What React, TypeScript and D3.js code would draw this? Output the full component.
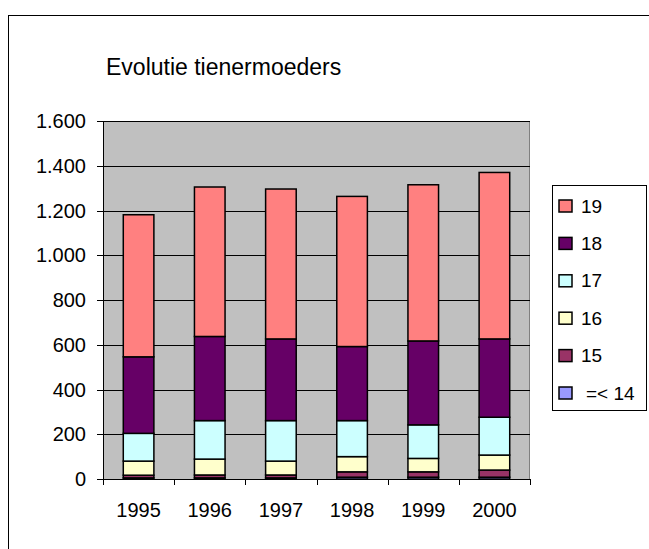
import React from 'react';
import * as d3 from 'd3';

const years = ['1995', '1996', '1997', '1998', '1999', '2000'];
const seriesNames = ['=< 14', '15', '16', '17', '18', '19'];
const seriesColors = ['#9999FF', '#993366', '#FFFFCC', '#CCFFFF', '#660066', '#FF8080'];
const age14 = [5, 5, 5, 8, 8, 8];
const age15 = [12, 13, 13, 24, 24, 32];
const age16 = [63, 71, 62, 68, 60, 67];
const age17 = [124, 172, 181, 161, 150, 169];
const age18 = [342, 376, 365, 331, 375, 350];
const age19 = [635, 668, 670, 671, 698, 744];
const yTicks = [0, 200, 400, 600, 800, 1000, 1200, 1400, 1600];

const W = 649;
const H = 549;
const plot = { left: 103, right: 530, top: 121, bottom: 479 };
const font = '"Liberation Sans", Arial, sans-serif';

const nl = d3.formatLocale({ decimal: ',', thousands: '.', grouping: [3], currency: ['€', ''] });
const fmt = nl.format(',d');

export default function App() {
  const table = years.map((year, i) => ({
    year,
    '=< 14': age14[i],
    '15': age15[i],
    '16': age16[i],
    '17': age17[i],
    '18': age18[i],
    '19': age19[i],
  }));
  const stacked = d3.stack<any>().keys(seriesNames)(table);

  const x = d3.scaleBand().domain(years).range([plot.left, plot.right]).padding(0);
  const y = d3.scaleLinear().domain([0, 1600]).range([plot.bottom, plot.top]);
  const barW = x.bandwidth() * 0.43;

  const legendRows = seriesNames.map((n, i) => ({ name: n, color: seriesColors[i] })).reverse();
  const legendY = d3.scaleLinear().domain([0, 5]).range([206, 393]);

  return (
    <svg width={W} height={H} style={{ position: 'absolute', left: 0, top: 0, background: '#fff' }} fontFamily={font}>
      <rect x={8.5} y={15.5} width={700} height={600} fill="none" stroke="#000" strokeWidth={1} />

      <text x={106} y={75} fontSize={23} fill="#000">Evolutie tienermoeders</text>

      {/* plot area */}
      <rect x={plot.left} y={plot.top} width={plot.right - plot.left} height={plot.bottom - plot.top} fill="#C0C0C0" />
      <path d={`M${plot.left},${plot.top + 0.5}H${plot.right - 0.5}V${plot.bottom}`} fill="none" stroke="#808080" />

      {yTicks.filter(t => t > 0).map(t => (
        <line key={t} x1={plot.left} x2={plot.right} y1={Math.round(y(t)) + 0.5} y2={Math.round(y(t)) + 0.5} stroke="#000" />
      ))}

      {stacked.map((s, si) => (
        <g key={s.key}>
          {s.map((d, i) => (
            <rect
              key={i}
              x={(x(years[i]) as number) + (x.bandwidth() - barW) / 2}
              y={y(d[1])}
              width={barW}
              height={y(d[0]) - y(d[1])}
              fill={seriesColors[si]}
              stroke="#000"
              strokeWidth={1.5}
            />
          ))}
        </g>
      ))}

      {/* y axis */}
      <line x1={plot.left + 0.5} x2={plot.left + 0.5} y1={plot.top} y2={plot.bottom} stroke="#000" />
      {yTicks.map(t => (
        <g key={t}>
          <line x1={plot.left - 6} x2={plot.left} y1={Math.round(y(t)) + 0.5} y2={Math.round(y(t)) + 0.5} stroke="#000" />
          <text x={86} y={y(t)} dy="0.35em" textAnchor="end" fontSize={20} fill="#000">{fmt(t)}</text>
        </g>
      ))}

      {/* x axis */}
      <line x1={plot.left} x2={plot.right} y1={plot.bottom + 0.5} y2={plot.bottom + 0.5} stroke="#000" />
      {[...years.map(yr => x(yr) as number), plot.right].map((px, i) => (
        <line key={i} x1={Math.round(px) + 0.5} x2={Math.round(px) + 0.5} y1={plot.bottom} y2={plot.bottom + 6} stroke="#000" />
      ))}
      {years.map(yr => (
        <text key={yr} x={(x(yr) as number) + x.bandwidth() / 2} y={517} textAnchor="middle" fontSize={20} fill="#000">{yr}</text>
      ))}

      {/* legend */}
      <rect x={552.5} y={185.5} width={94} height={225} fill="#fff" stroke="#000" />
      {legendRows.map((r, i) => (
        <g key={r.name}>
          <rect x={559} y={legendY(i) - 6} width={13} height={12} fill={r.color} stroke="#000" strokeWidth={1.5} />
          <text x={r.name === '=< 14' ? 586 : 581} y={legendY(i)} dy="0.35em" fontSize={19} fill="#000">{r.name}</text>
        </g>
      ))}
    </svg>
  );
}
